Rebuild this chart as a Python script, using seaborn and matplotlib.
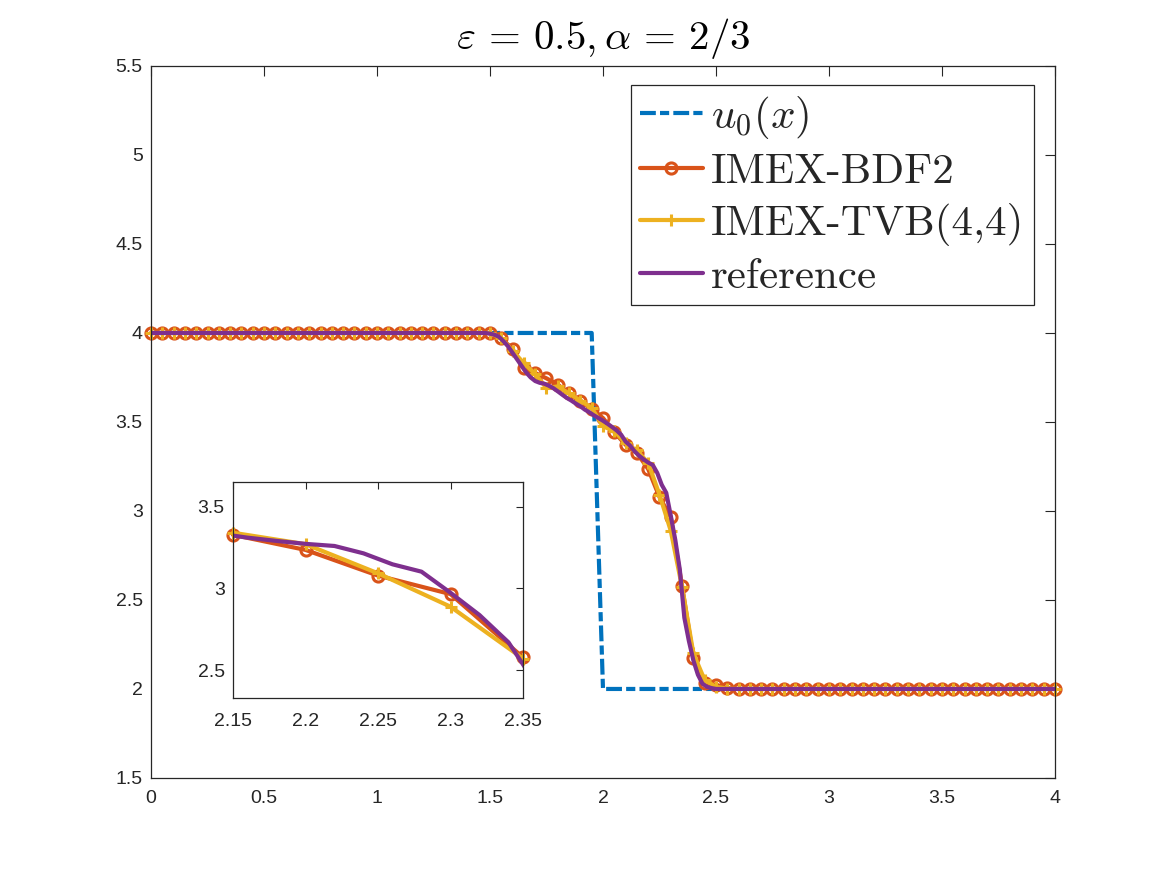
import numpy as np
import matplotlib.pyplot as plt
import seaborn as sns

# coarse grid (dx = 0.05) for u0 and the two schemes
x_coarse = np.linspace(0, 4, 81)
u0 = [4.0] * 40 + [2.0] * 41
bdf2 = [4.0] * 31 + [
    3.97, 3.91, 3.805, 3.775, 3.745, 3.71, 3.66, 3.62, 3.575, 3.522,
    3.443, 3.372, 3.327, 3.235, 3.078, 2.965, 2.578, 2.174, 2.034, 2.024,
    2.005] + [2.0] * 29
tvb = [4.0] * 31 + [
    3.97, 3.90, 3.83, 3.77, 3.69, 3.70, 3.66, 3.62, 3.58, 3.475,
    3.45, 3.38, 3.34, 3.27, 3.092, 2.888, 2.571, 2.20, 2.05, 2.012,
    2.002] + [2.0] * 29

# fine grid (dx = 0.02) for the reference solution
x_fine = np.linspace(0, 4, 201)
ref = [4.0] * 74 + [
    4.0, 3.996, 3.99, 3.978, 3.953, 3.925, 3.888, 3.85, 3.813, 3.778,
    3.75, 3.73, 3.72, 3.715, 3.704, 3.69, 3.672, 3.653, 3.635, 3.62,
    3.603, 3.588, 3.569, 3.554, 3.537, 3.522, 3.507, 3.49, 3.472, 3.453,
    3.429, 3.39, 3.367, 3.335, 3.31, 3.29, 3.272, 3.259, 3.214, 3.147,
    3.102, 2.973, 2.837, 2.67, 2.40, 2.27, 2.16, 2.08, 2.03, 2.012,
    2.005, 2.0] + [2.0] * 75

labels = [r"$u_0(x)$", "IMEX-BDF2", "IMEX-TVB(4,4)", "reference"]
colors = ["#0072BD", "#D95319", "#EDB120", "#7E2F8E"]

sns.set_theme(style="white")
plt.rcParams['font.family'] = ['Liberation Sans', 'DejaVu Sans']
plt.rcParams['mathtext.fontset'] = 'cm'

axc = "#262626"
fig = plt.figure(figsize=(11.67, 8.75), dpi=100)
ax = fig.add_axes([0.1294, 0.1109, 0.7746, 0.8137])

lw = 3.0
dash = (0, (3.8, 1.0, 2.2, 1.0))
sns.lineplot(x=x_coarse, y=u0, ax=ax, color=colors[0], lw=lw, linestyle=dash,
             label=labels[0], clip_on=False)
sns.lineplot(x=x_coarse, y=bdf2, ax=ax, color=colors[1], lw=lw, marker='o',
             markersize=8, markerfacecolor='none', markeredgecolor=colors[1],
             markeredgewidth=2.2, label=labels[1], clip_on=False)
sns.lineplot(x=x_coarse, y=tvb, ax=ax, color=colors[2], lw=lw, marker='+',
             markersize=9, markeredgecolor=colors[2], markeredgewidth=2.2,
             label=labels[2], clip_on=False)
sns.lineplot(x=x_fine, y=ref, ax=ax, color=colors[3], lw=lw, label=labels[3])

ax.set_xlim(0, 4)
ax.set_ylim(1.5, 5.5)
ax.set_xticks(np.arange(0, 4.01, 0.5))
ax.set_xticklabels(["0", "0.5", "1", "1.5", "2", "2.5", "3", "3.5", "4"])
ax.set_yticks(np.arange(1.5, 5.51, 0.5))
ax.set_yticklabels(["1.5", "2", "2.5", "3", "3.5", "4", "4.5", "5", "5.5"])
ax.set_xlabel("")
ax.set_ylabel("")
ax.set_title(r"$\varepsilon \,=\, 0.5, \alpha \,=\, 2/3$", fontsize=29.5, pad=12,
             color='black')

for s in ax.spines.values():
    s.set_color(axc)
    s.set_linewidth(0.9)
ax.tick_params(direction='in', length=7, width=0.8, colors=axc, labelsize=14,
               top=True, right=True)
ax.tick_params(axis='y', pad=6)
ax.tick_params(axis='x', pad=9)

leg = ax.legend(loc='upper right', bbox_to_anchor=(1034 / 1167, 1 - 85 / 875),
                bbox_transform=fig.transFigure, borderaxespad=0,
                prop={'family': 'cmr10', 'size': 31}, handlelength=1.45,
                handletextpad=0.2, labelspacing=0.27, borderpad=0.22,
                fancybox=False, framealpha=1, edgecolor=axc)
leg.get_frame().set_linewidth(0.9)

# inset zoom
ins = fig.add_axes([233 / 1167, 1 - 698 / 875, 290 / 1167, 216 / 875])
sub = slice(43, 48)
sns.lineplot(x=x_coarse[sub], y=bdf2[sub], ax=ins, color=colors[1], lw=lw,
             marker='o', markersize=8, markerfacecolor='none',
             markeredgecolor=colors[1], markeredgewidth=2.2, clip_on=False)
sns.lineplot(x=x_coarse[sub], y=tvb[sub], ax=ins, color=colors[2], lw=lw,
             marker='+', markersize=9, markeredgecolor=colors[2],
             markeredgewidth=2.2, clip_on=False)
sns.lineplot(x=x_fine, y=ref, ax=ins, color=colors[3], lw=lw)
ins.set_xlim(2.15, 2.35)
ins.set_ylim(2.33, 3.65)
ins.set_xticks([2.15, 2.2, 2.25, 2.3, 2.35])
ins.set_xticklabels(["2.15", "2.2", "2.25", "2.3", "2.35"])
ins.set_yticks([2.5, 3, 3.5])
ins.set_yticklabels(["2.5", "3", "3.5"])
for s in ins.spines.values():
    s.set_color(axc)
    s.set_linewidth(0.9)
ins.tick_params(direction='in', length=5, width=0.8, colors=axc, labelsize=14,
                top=True, right=True)
ins.tick_params(axis='y', pad=6)
ins.tick_params(axis='x', pad=11)
if ins.get_legend() is not None:
    ins.get_legend().remove()

plt.savefig('out.png', dpi=100)
